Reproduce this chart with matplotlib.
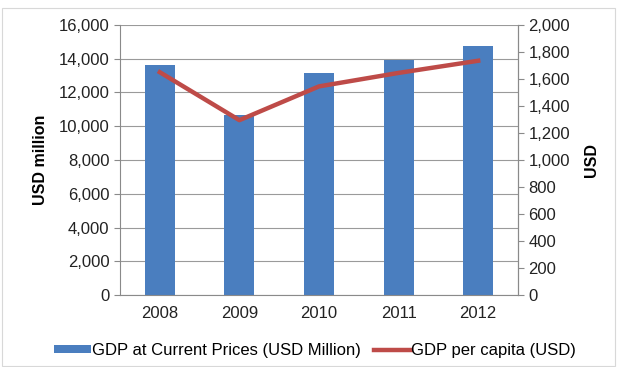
import matplotlib
matplotlib.use("Agg")
import matplotlib.pyplot as plt
import numpy as np

years = ["2008", "2009", "2010", "2011", "2012"]
gdp_million = [13600, 10650, 13150, 13950, 14750]
gdp_per_capita = [1650, 1295, 1545, 1645, 1735]

plt.rcParams['font.family'] = ['Liberation Sans', 'DejaVu Sans']
FS = 12

fig = plt.figure(figsize=(6.17, 3.67), dpi=100)
ax = fig.add_axes([0.1945, 0.196, 0.645, 0.736])
x = np.arange(len(years))
ax.bar(x, gdp_million, width=0.375, color='#4A7EBF', zorder=2,
       label='GDP at Current Prices (USD Million)')
ax.set_ylim(0, 16000)
ax.set_xlim(-0.5, len(years) - 0.5)
ax.set_yticks(range(0, 16001, 2000))
ax.set_yticklabels([f"{v:,}" for v in range(0, 16001, 2000)])
ax.set_xticks(x)
ax.set_xticklabels(years)
ax.grid(axis='y', color='#9a9a9a', linewidth=0.8, zorder=0)
ax.spines['top'].set_visible(False)
for s in ['left', 'bottom', 'right']:
    ax.spines[s].set_color('#8a8a8a')
ax.tick_params(axis='both', colors='#8a8a8a', labelcolor='#222222', labelsize=FS, length=4)
ax.tick_params(axis='x', length=0, pad=8)
ax.set_ylabel('USD million', fontweight='bold', fontsize=FS - 0.5, labelpad=8)

ax2 = ax.twinx()
ax2.plot(x, gdp_per_capita, color='#BE4B48', linewidth=3.2, zorder=3,
         label='GDP per capita (USD)')
ax2.set_ylim(0, 2000)
ax2.set_yticks(range(0, 2001, 200))
ax2.set_yticklabels([f"{v:,}" for v in range(0, 2001, 200)])
ax2.tick_params(axis='y', colors='#8a8a8a', labelcolor='#222222', labelsize=FS, length=4)
for s in ['top', 'left', 'bottom']:
    ax2.spines[s].set_visible(False)
ax2.spines['right'].set_color('#8a8a8a')
ax2.set_ylabel('USD', fontweight='bold', fontsize=FS - 0.5, labelpad=10)

h1, l1 = ax.get_legend_handles_labels()
h2, l2 = ax2.get_legend_handles_labels()
fig.legend(h1 + h2, l1 + l2, loc='center', bbox_to_anchor=(0.511, 0.046), ncol=2,
           frameon=False, fontsize=FS, handlelength=2.2, handleheight=0.35,
           columnspacing=0.8, handletextpad=0.05)

fig.patches.append(plt.Rectangle((0.003, 0.003), 0.994, 0.975, transform=fig.transFigure,
                                 fill=False, edgecolor='#d8d8d8', linewidth=0.8))
fig.savefig('out.png', dpi=100)
